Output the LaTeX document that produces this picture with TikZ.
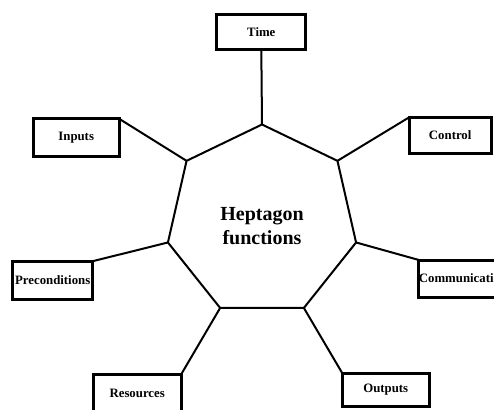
\documentclass[tikz,border=0pt]{standalone}
\usepackage{fontspec}
\setmainfont{Liberation Serif}
\usetikzlibrary{shapes,positioning}

\begin{document}
\begin{tikzpicture}[x=1pt,y=-1pt,line width=2pt,
    funcbox/.style={rectangle,draw,line width=3pt,inner sep=0pt,outer sep=0pt,font=\fontsize{12.8}{14}\selectfont\bfseries},
    hepta/.style={regular polygon,regular polygon sides=7,draw,minimum size=193pt,inner sep=0pt,outer sep=0pt}]
    \useasboundingbox (0,0) rectangle (494,409);
    \clip (0,0) rectangle (494,409);

    \node (hep) at (262,221) [hepta] {};
    \node (title) at ([yshift=-5.5pt]hep.center) [align=center,font=\fontsize{20}{24}\selectfont\bfseries] {Heptagon\\functions};

    \node (time) at (261.3,31.7) [funcbox,minimum width=89pt,minimum height=35pt] {Time};
    \node (inputs) at (76.2,137.8) [funcbox,minimum width=86pt,minimum height=38pt] {Inputs};
    \node (control) at (450.2,135.3) [funcbox,minimum width=82pt,minimum height=36pt] {Control};
    \node (precond) at (52.7,280.2) [funcbox,minimum width=80pt,minimum height=38pt] {Preconditions};
    \node (comm) at (463,278.5) [funcbox,minimum width=86pt,minimum height=37pt] {Communication};
    \node (resources) at (137.2,393.3) [funcbox,minimum width=88pt,minimum height=38pt] {Resources};
    \node (outputs) at (385.7,390) [funcbox,minimum width=86.7pt,minimum height=33.4pt] {Outputs};

    % spokes from the corners
    \draw (hep.corner 1) -- (time.south);
    \draw (hep.corner 2) -- (inputs.north east);
    \draw (hep.corner 3) -- (precond.north east);
    \draw (hep.corner 4) -- (resources.north east);
    \draw (hep.corner 5) -- (outputs.north west);
    \draw (hep.corner 6) -- (comm.north west);
    \draw (hep.corner 7) -- (control.north west);
  \end{tikzpicture}
\end{document}
